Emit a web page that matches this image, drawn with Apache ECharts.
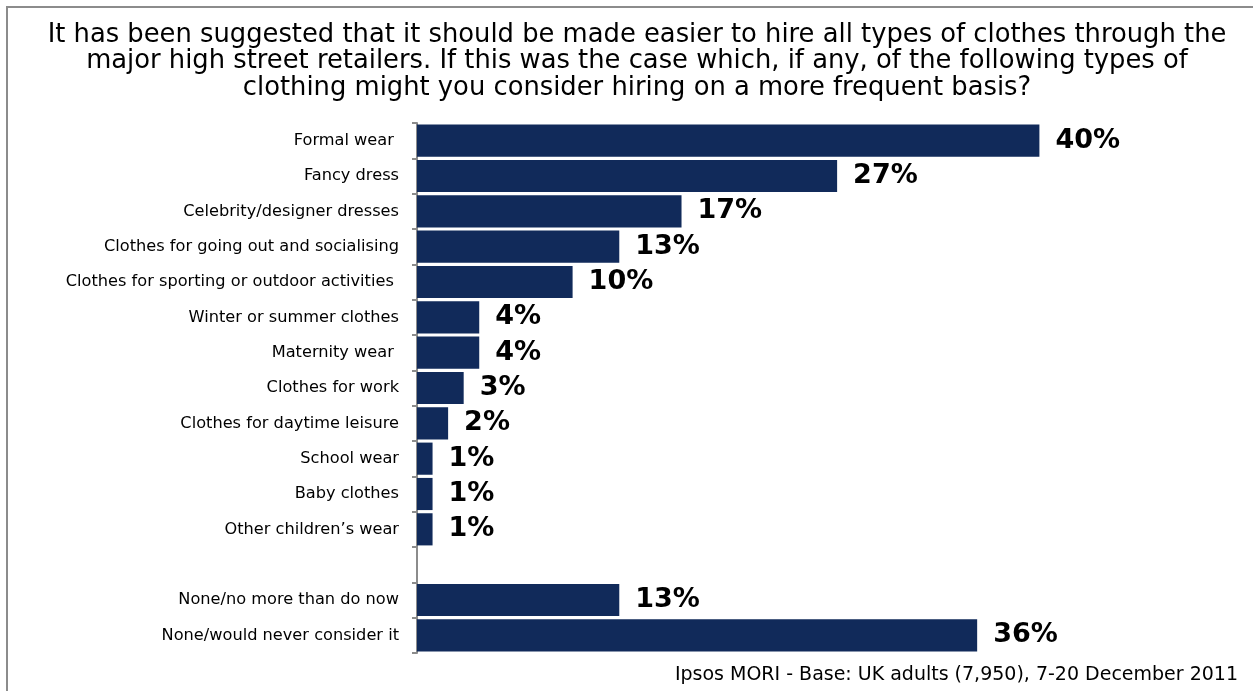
<!DOCTYPE html>
<html>
<head>
<meta charset="utf-8">
<script src="https://cdn.jsdelivr.net/npm/echarts@6/dist/echarts.min.js"></script>
<style>
  html, body { margin: 0; padding: 0; background: #ffffff; }
  #chart { width: 1253px; height: 691px; }
</style>
</head>
<body>
<div id="chart"></div>
<script>
// Clothing hire survey: share of UK adults who might hire each type more often
const categories = [
  'Formal wear ',
  'Fancy dress',
  'Celebrity/designer dresses',
  'Clothes for going out and socialising',
  'Clothes for sporting or outdoor activities ',
  'Winter or summer clothes',
  'Maternity wear ',
  'Clothes for work',
  'Clothes for daytime leisure',
  'School wear',
  'Baby clothes',
  'Other children\u2019s wear',
  '',
  'None/no more than do now',
  'None/would never consider it'
];
const percentages = [40, 27, 17, 13, 10, 4, 4, 3, 2, 1, 1, 1, null, 13, 36];

const titleLines = [
  'It has been suggested that it should be made easier to hire all types of clothes through the',
  'major high street retailers. If this was the case which, if any, of the following types of',
  'clothing might you consider hiring on a more frequent basis?'
];
const sourceNote = 'Ipsos MORI - Base: UK adults (7,950), 7-20 December 2011';

const textFont = '"DejaVu Sans", sans-serif';

const chart = echarts.init(document.getElementById('chart'));

chart.setOption({
  backgroundColor: '#ffffff',
  animation: false,
  title: {
    text: titleLines.join('\n'),
    left: 632,
    top: 17,
    textAlign: 'center',
    textStyle: {
      fontFamily: textFont,
      fontSize: 25.8,
      fontWeight: 'normal',
      color: '#000000',
      lineHeight: 26.5
    }
  },
  graphic: [
    {
      type: 'rect',
      shape: { x: 7, y: 7, width: 1270, height: 710 },
      style: { fill: 'none', stroke: '#8c8c8c', lineWidth: 2 },
      silent: true
    },
    {
      type: 'text',
      right: 15,
      top: 666,
      style: {
        text: sourceNote,
        font: '19px "DejaVu Sans", sans-serif',
        fill: '#000000'
      }
    }
  ],
  grid: {
    left: 417,
    top: 123,
    width: 778,
    height: 530,
    containLabel: false
  },
  xAxis: {
    type: 'value',
    min: 0,
    max: 50,
    show: false
  },
  yAxis: {
    type: 'category',
    data: categories,
    inverse: true,
    axisLine: { show: true, lineStyle: { color: '#8c8c8c', width: 2 } },
    axisTick: { show: true, length: 5, lineStyle: { color: '#8c8c8c', width: 2 } },
    axisLabel: {
      margin: 18,
      fontFamily: textFont,
      fontSize: 16.2,
      color: '#000000'
    },
    splitLine: { show: false }
  },
  series: [{
    type: 'bar',
    data: percentages,
    barCategoryGap: '9%',
    itemStyle: { color: '#112a5a' },
    label: {
      show: true,
      position: 'right',
      distance: 16,
      formatter: p => p.value + '%',
      fontFamily: 'DejaVu Sans',
      fontWeight: 'bold',
      fontSize: 27,
      color: '#000000'
    }
  }]
});
</script>
</body>
</html>
